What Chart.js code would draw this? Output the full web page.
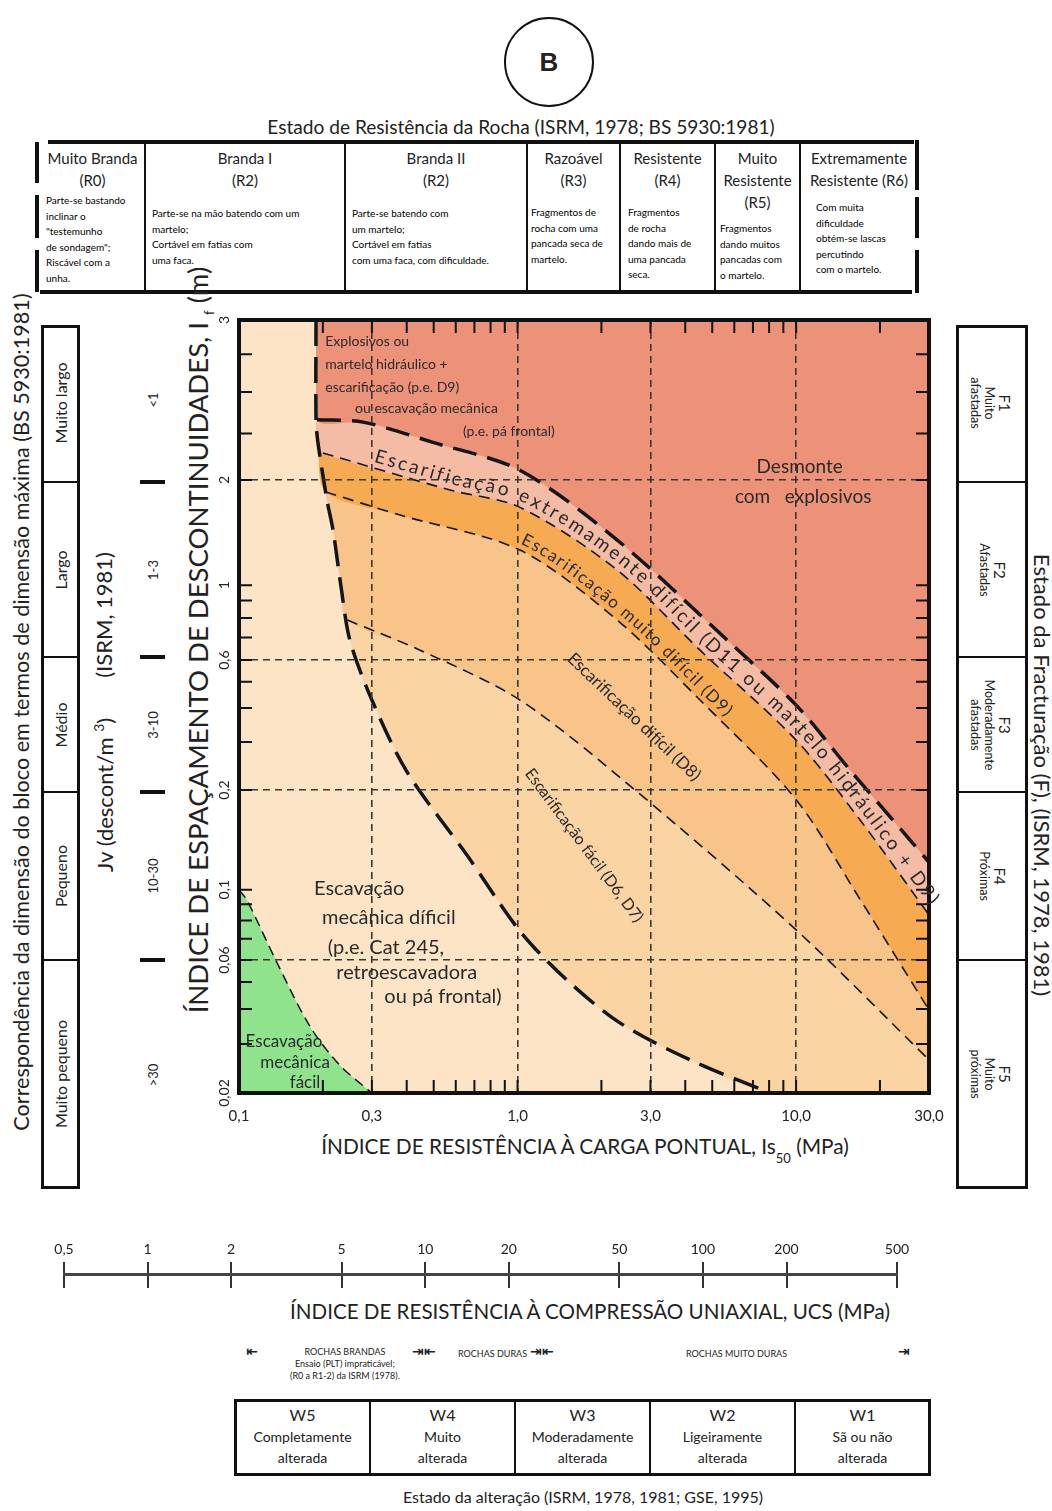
<!DOCTYPE html>
<html lang="pt">
<head>
<meta charset="utf-8">
<title>Escavabilidade de maciços rochosos</title>
<script src="https://cdn.jsdelivr.net/npm/chart.js@4.4.1/dist/chart.umd.min.js"></script>
<style>
  html, body { margin: 0; padding: 0; background: #fff; }
  #page { position: relative; width: 1052px; height: 1511px; overflow: hidden;
          font-family: Lato, 'Open Sans', sans-serif; color: #222; }
  .t { position: absolute; white-space: nowrap; line-height: 1; }
  .c { transform: translate(-50%, -50%); }
  .up { transform: translate(-50%, -50%) rotate(-90deg); }
  .down { transform: translate(-50%, -50%) rotate(90deg); text-align: center; line-height: 1.1; }
  .bar { position: absolute; background: #111; }
  .hd { font-size: 15px; text-align: center; line-height: 22px; }
  .sm { position: absolute; font-size: 10px; line-height: 15.5px; white-space: nowrap; color: #000; }
  .circle { position: absolute; left: 504px; top: 17px; width: 86px; height: 86px; border: 2.5px solid #111;
            border-radius: 50%; font: bold 26px 'Liberation Sans', Arial, sans-serif; text-align: center; line-height: 86px; }
  .box { position: absolute; border: 3px solid #111; box-sizing: border-box; }
  .tick { position: absolute; width: 25px; height: 4px; background: #111; left: 140px; }
  .wcell { position: absolute; top: 1400px; height: 75px; text-align: center; font-size: 14px; line-height: 21px; padding-top: 4px; box-sizing: border-box; }
  .rk { position: absolute; font-size: 9px; white-space: nowrap; color: #222; }
  .ar { position: absolute; font: bold 14px 'DejaVu Sans', sans-serif; color: #222; }
  #mainWrap { position: absolute; left: 190px; top: 300px; width: 780px; height: 830px; }
  #ucsWrap { position: absolute; left: 0; top: 1228px; width: 1052px; height: 60px; }
</style>
</head>
<body>
<div id="page">

  <div class="circle">B</div>
  <div class="t c" style="left:521px; top:127px; font-size:17px" data-w="507">Estado de Resistência da Rocha (ISRM, 1978; BS 5930:1981)</div>

  <!-- resistance table -->
  <div class="bar" style="left:48px; top:140px; width:866px; height:4px"></div>
  <div class="bar" style="left:40px; top:290px; width:872px; height:4px"></div>
  <div class="bar" style="left:35px; top:142px; width:4px; height:41px"></div>
  <div class="bar" style="left:35px; top:195px; width:4px; height:43px"></div>
  <div class="bar" style="left:35px; top:250px; width:4px; height:42px"></div>
  <div class="bar" style="left:915px; top:140px; width:4px; height:50px"></div>
  <div class="bar" style="left:915px; top:197px; width:4px; height:41px"></div>
  <div class="bar" style="left:915px; top:250px; width:4px; height:43px"></div>
  <div class="bar" style="left:144px; top:142px; width:2px; height:150px"></div>
  <div class="bar" style="left:344px; top:142px; width:2px; height:150px"></div>
  <div class="bar" style="left:526px; top:142px; width:2px; height:150px"></div>
  <div class="bar" style="left:619px; top:142px; width:2px; height:150px"></div>
  <div class="bar" style="left:714px; top:142px; width:2px; height:150px"></div>
  <div class="bar" style="left:799px; top:142px; width:2px; height:150px"></div>

  <div class="t hd" style="left:40px; width:105px; top:147px">Muito Branda<br>(R0)</div>
  <div class="t hd" style="left:145px; width:200px; top:147px">Branda I<br>(R2)</div>
  <div class="t hd" style="left:345px; width:182px; top:147px">Branda II<br>(R2)</div>
  <div class="t hd" style="left:527px; width:93px; top:147px">Razoável<br>(R3)</div>
  <div class="t hd" style="left:620px; width:95px; top:147px">Resistente<br>(R4)</div>
  <div class="t hd" style="left:715px; width:85px; top:147px">Muito<br>Resistente<br>(R5)</div>
  <div class="t hd" style="left:800px; width:118px; top:147px">Extremamente<br>Resistente (R6)</div>

  <div class="sm" style="left:46px; top:193px">Parte-se bastando<br>inclinar o<br>"testemunho<br>de sondagem";<br>Riscável com a<br>unha.</div>
  <div class="sm" style="left:152px; top:206px">Parte-se na mão batendo com um<br>martelo;<br>Cortável em fatias com<br>uma faca.</div>
  <div class="sm" style="left:352px; top:206px">Parte-se batendo com<br>um martelo;<br>Cortável em fatias<br>com uma faca, com dificuldade.</div>
  <div class="sm" style="left:531px; top:205px">Fragmentos de<br>rocha com uma<br>pancada seca de<br>martelo.</div>
  <div class="sm" style="left:628px; top:205px">Fragmentos<br>de rocha<br>dando mais de<br>uma pancada<br>seca.</div>
  <div class="sm" style="left:720px; top:221px">Fragmentos<br>dando muitos<br>pancadas com<br>o martelo.</div>
  <div class="sm" style="left:816px; top:200px">Com muita<br>dificuldade<br>obtém-se lascas<br>percutindo<br>com o martelo.</div>

  <!-- left side: block size -->
  <div class="t up" style="left:22px; top:712px; font-size:17px" data-w="838">Correspondência da dimensão do bloco em termos de dimensão máxima (BS 5930:1981)</div>
  <div class="box" style="left:41px; top:325px; width:39px; height:864px"></div>
  <div class="bar" style="left:41px; top:481px; width:39px; height:2px"></div>
  <div class="bar" style="left:41px; top:656px; width:39px; height:2px"></div>
  <div class="bar" style="left:41px; top:791px; width:39px; height:2px"></div>
  <div class="bar" style="left:41px; top:959px; width:39px; height:2px"></div>
  <div class="t up" style="left:61px; top:403px; font-size:16px">Muito largo</div>
  <div class="t up" style="left:61px; top:570px; font-size:16px">Largo</div>
  <div class="t up" style="left:61px; top:725px; font-size:16px">Médio</div>
  <div class="t up" style="left:61px; top:876px; font-size:16px">Pequeno</div>
  <div class="t up" style="left:61px; top:1074px; font-size:16px">Muito pequeno</div>

  <div class="t up" style="left:104px; top:712px; font-size:22px">Jv (descont/m <sup style="font-size:14px">3</sup>)<span style="margin-left:40px">(ISRM, 1981)</span></div>
  <div class="t up" style="left:153px; top:400px; font-size:13px">&lt;1</div>
  <div class="t up" style="left:153px; top:570px; font-size:13px">1-3</div>
  <div class="t up" style="left:153px; top:725px; font-size:13px">3-10</div>
  <div class="t up" style="left:153px; top:876px; font-size:13px">10-30</div>
  <div class="t up" style="left:153px; top:1075px; font-size:13px">&gt;30</div>
  <div class="tick" style="top:480px"></div>
  <div class="tick" style="top:655px"></div>
  <div class="tick" style="top:790px"></div>
  <div class="tick" style="top:958px"></div>

  <div class="t up" style="left:200px; top:640px; font-size:20px" data-w="748">ÍNDICE DE ESPAÇAMENTO DE DESCONTINUIDADES, I <sub style="font-size:13px">f</sub> (m)</div>

  <!-- right side: fracturing -->
  <div class="box" style="left:956px; top:325px; width:72px; height:864px"></div>
  <div class="bar" style="left:956px; top:481px; width:72px; height:2px"></div>
  <div class="bar" style="left:956px; top:656px; width:72px; height:2px"></div>
  <div class="bar" style="left:956px; top:791px; width:72px; height:2px"></div>
  <div class="bar" style="left:956px; top:959px; width:72px; height:2px"></div>
  <div class="t down" style="left:991px; top:403px; font-size:12.5px"><span style="font-size:15px">F1</span><br>Muito<br>afastadas</div>
  <div class="t down" style="left:993px; top:570px; font-size:12.5px"><span style="font-size:15px">F2</span><br>Afastadas</div>
  <div class="t down" style="left:991px; top:725px; font-size:12.5px"><span style="font-size:15px">F3</span><br>Moderadamente<br>afastadas</div>
  <div class="t down" style="left:993px; top:876px; font-size:12.5px"><span style="font-size:15px">F4</span><br>Próximas</div>
  <div class="t down" style="left:991px; top:1074px; font-size:12.5px"><span style="font-size:15px">F5</span><br>Muito<br>próximas</div>
  <div class="t down" style="left:1042px; top:775px; font-size:17px; line-height:1" data-w="442">Estado da Fracturação (F), (ISRM, 1978, 1981)</div>

  <div id="mainWrap"><canvas id="mainChart" width="780" height="830"></canvas></div>

  <div class="t c" style="left:585px; top:1150px; font-size:18px" data-w="530">ÍNDICE DE RESISTÊNCIA À CARGA PONTUAL, Is<sub style="font-size:13px; vertical-align:-9px">50</sub> (MPa)</div>

  <div id="ucsWrap"><canvas id="ucsChart" width="1052" height="60"></canvas></div>
  <div class="t c" style="left:590px; top:1311px; font-size:19px" data-w="600">ÍNDICE DE RESISTÊNCIA À COMPRESSÃO UNIAXIAL, UCS (MPa)</div>

  <!-- rock classes -->
  <div class="ar" style="left:246px; top:1343px">⇤</div>
  <div class="rk" style="left:290px; top:1346px; text-align:center; line-height:12px">ROCHAS BRANDAS<br>Ensaio (PLT) impraticável;<br>(R0 a R1-2) da ISRM (1978).</div>
  <div class="ar" style="left:412px; top:1343px">⇥⇤</div>
  <div class="rk" style="left:458px; top:1348px">ROCHAS DURAS</div>
  <div class="ar" style="left:530px; top:1343px">⇥⇤</div>
  <div class="rk" style="left:686px; top:1348px">ROCHAS MUITO DURAS</div>
  <div class="ar" style="left:898px; top:1343px">⇥</div>

  <!-- weathering table -->
  <div class="box" style="left:234px; top:1399px; width:697px; height:77px"></div>
  <div class="bar" style="left:369px; top:1400px; width:2px; height:75px"></div>
  <div class="bar" style="left:514px; top:1400px; width:2px; height:75px"></div>
  <div class="bar" style="left:649px; top:1400px; width:2px; height:75px"></div>
  <div class="bar" style="left:794px; top:1400px; width:2px; height:75px"></div>
  <div class="wcell" style="left:236px; width:133px"><span style="font-size:16px">W5</span><br>Completamente<br>alterada</div>
  <div class="wcell" style="left:371px; width:143px"><span style="font-size:16px">W4</span><br>Muito<br>alterada</div>
  <div class="wcell" style="left:516px; width:133px"><span style="font-size:16px">W3</span><br>Moderadamente<br>alterada</div>
  <div class="wcell" style="left:651px; width:143px"><span style="font-size:16px">W2</span><br>Ligeiramente<br>alterada</div>
  <div class="wcell" style="left:796px; width:133px"><span style="font-size:16px">W1</span><br>Sã ou não<br>alterada</div>
  <div class="t c" style="left:583px; top:1497px; font-size:16px">Estado da alteração (ISRM, 1978, 1981; GSE, 1995)</div>
</div>

<script>
// --- Axis values ---
const X_TICKS = [0.1, 0.3, 1, 3, 10, 30];
const X_GRID = [0.3, 1, 3, 10];
const X_MINOR = [0.2, 0.4, 0.5, 0.6, 0.7, 0.8, 0.9, 2, 4, 5, 6, 7, 8, 9, 20];
const Y_TICKS = [0.02, 0.06, 0.1, 0.2, 0.6, 1, 2, 3];
const Y_GRID = [0.06, 0.2, 0.6, 2];
const Y_MINOR = [0.03, 0.04, 0.05, 0.07, 0.08, 0.09, 0.3, 0.4, 0.5, 0.7, 0.8, 0.9, 2.25, 2.5, 2.75];
const UCS_TICKS = [0.5, 1, 2, 5, 10, 20, 50, 100, 200, 500];

// --- Zone boundaries, [Is50 (MPa), If (m)] ---
// thick dashed: mechanical digging / ripping
const limiteEscavacao = [[0.189, 3], [0.189, 2.33], [0.192, 2.2], [0.207, 1.75], [0.2175, 1.44],
  [0.232, 1.0], [0.25, 0.688], [0.30, 0.428], [0.401, 0.233], [0.659, 0.127], [1.02, 0.074],
  [1.506, 0.0508], [2.33, 0.0357], [4.16, 0.0263], [8.07, 0.02]];
// thick dashed: blasting
const limiteExplosivos = [[0.1906, 2.33], [0.279, 2.316], [0.497, 2.2], [1.02, 2.05], [2.28, 1.346],
  [5.65, 0.688], [10, 0.41], [15.6, 0.237], [25.7, 0.141], [30, 0.121]];
// extremely hard ripping / very hard ripping
const limiteExtremo = [[0.2, 2.142], [0.572, 1.873], [1.02, 1.67], [2.28, 1.104],
  [4.52, 0.642], [10, 0.305], [17, 0.162], [30, 0.0833]];
// very hard ripping / hard ripping
const limiteMuitoDificil = [[0.205, 1.848], [0.379, 1.587], [1.02, 1.26], [2.28, 0.788], [4.52, 0.428],
  [10, 0.187], [17, 0.093], [30, 0.0397]];
// hard ripping / easy ripping
const limiteDificil = [[0.245, 0.788], [0.447, 0.642], [1.02, 0.428], [2.64, 0.2], [10, 0.0747], [30, 0.0263]];
// easy digging
const limiteFacil = [[0.1, 0.1], [0.1068, 0.0927], [0.137, 0.0586], [0.18, 0.0346], [0.2305, 0.0251], [0.3, 0.02]];

// --- Layout of the y axis (fraction of plot height for each Y_TICKS value) ---
const Y_FRAC = [0, 0.172, 0.263, 0.392, 0.560, 0.657, 0.793, 1];
const TENSION = 0.3;

const COLORS = {
  facil: '#fbd4a4', dificil: '#f9c48a', muito: '#f6ab52', extremo: '#f4bba5',
  explosivos: '#eb9279', creme: '#fde4c6', verde: '#8fe38d', line: '#151515', grid: '#3e3630'
};

const PLOT_LABELS = [
  { text: 'Explosivos ou', x: 0.204, y: 2.84, size: 14, align: 'left' },
  { text: 'martelo hidráulico +', x: 0.204, y: 2.68, size: 14, align: 'left' },
  { text: 'escarificação (p.e. D9)', x: 0.204, y: 2.53, size: 14, align: 'left' },
  { text: 'ou escavação mecânica', x: 0.261, y: 2.40, size: 14, align: 'left' },
  { text: '(p.e. pá frontal)', x: 0.637, y: 2.26, size: 14, align: 'left' },
  { text: 'Desmonte', x: 10.3, y: 2.07, size: 19, align: 'center' },
  { text: 'com   explosivos', x: 10.6, y: 1.79, size: 19, align: 'center' },
  { text: 'Escavação', x: 0.27, y: 0.1005, size: 20, align: 'center' },
  { text: 'mecânica díficil', x: 0.345, y: 0.0817, size: 20, align: 'center' },
  { text: '(p.e. Cat 245,', x: 0.337, y: 0.0658, size: 20, align: 'center' },
  { text: 'retroescavadora', x: 0.40, y: 0.054, size: 20, align: 'center' },
  { text: 'ou pá frontal)', x: 0.54, y: 0.0445, size: 20, align: 'center' },
  { text: 'Escavação', x: 0.145, y: 0.0305, size: 17, align: 'center' },
  { text: 'mecânica', x: 0.159, y: 0.0257, size: 17, align: 'center' },
  { text: 'fácil', x: 0.1726, y: 0.0219, size: 17, align: 'center' },
  { text: 'Escarificação difícil (D8)', x: 2.62, y: 0.371, size: 17, align: 'center', angle: 43.6 },
  { text: 'Escarificação fácil (D6, D7)', x: 1.733, y: 0.136, size: 16, align: 'center', angle: 53.4 }
];
const CURVE_LABELS = [
  { text: 'Escarificação extremamente difícil (D11 ou martelo hidráulico + D9)', guide: limiteExtremo,
    from: 0.3, to: 29, offset: 6, size: 19 },
  { text: 'Escarificação muito difícil (D9)', guide: limiteMuitoDificil, from: 1.0, to: 5.4, offset: 6, size: 17 }
];

// --- Piecewise logarithmic y scale (the printed axis is not a regular log scale) ---
function yFrac(v) {
  const lv = Math.log10(v);
  for (let i = 0; i < Y_TICKS.length - 1; i++) {
    const a = Math.log10(Y_TICKS[i]), b = Math.log10(Y_TICKS[i + 1]);
    if (lv <= b || i === Y_TICKS.length - 2) {
      return Y_FRAC[i] + (lv - a) / (b - a) * (Y_FRAC[i + 1] - Y_FRAC[i]);
    }
  }
}
function yValue(f) {
  for (let i = 0; i < Y_FRAC.length - 1; i++) {
    if (f <= Y_FRAC[i + 1] || i === Y_FRAC.length - 2) {
      const a = Math.log10(Y_TICKS[i]), b = Math.log10(Y_TICKS[i + 1]);
      return Math.pow(10, a + (f - Y_FRAC[i]) / (Y_FRAC[i + 1] - Y_FRAC[i]) * (b - a));
    }
  }
}
class PiecewiseLogScale extends Chart.LogarithmicScale {
  getPixelForValue(value) {
    if (!(value > 0)) value = this.min;
    return this.getPixelForDecimal(yFrac(value));
  }
  getValueForPixel(pixel) {
    return yValue(this.getDecimalForPixel(pixel));
  }
}
PiecewiseLogScale.id = 'pwlog';
PiecewiseLogScale.defaults = Chart.LogarithmicScale.defaults;
Chart.register(PiecewiseLogScale);

const comma = v => String(v).replace('.', ',');
const toPts = arr => arr.map(([x, y]) => ({ x, y }));

// --- Datasets ---
function area(points, color, fill, order) {
  return { data: toPts(points), showLine: true, fill, backgroundColor: color,
           borderColor: 'rgba(0,0,0,0)', borderWidth: 0, pointRadius: 0, tension: TENSION, order };
}
function boundary(points, width, dash, order) {
  return { data: toPts(points), source: points, showLine: true, fill: false, borderColor: COLORS.line,
           borderWidth: width, borderDash: dash, pointRadius: 0, tension: TENSION, order };
}
// a band boundary starts on the digging limit: the part of that limit above it closes the zone
const fromLimit = curve => [...limiteEscavacao.filter(p => p[1] > curve[0][1] && p[0] < curve[0][0]), ...curve];

const datasets = [
  area([...limiteEscavacao, [30, 0.02]], COLORS.facil, 'end', 20),
  area(fromLimit(limiteDificil), COLORS.dificil, 'end', 19),
  area(fromLimit(limiteMuitoDificil), COLORS.muito, 'end', 18),
  area(fromLimit(limiteExtremo), COLORS.extremo, 'end', 17),
  area(fromLimit(limiteExplosivos), COLORS.explosivos, 'end', 16),
  area(limiteFacil, COLORS.verde, 'start', 14),
  boundary(limiteDificil, 1.6, [11, 7], 5),
  boundary(limiteMuitoDificil, 1.6, [11, 7], 5),
  boundary(limiteExtremo, 1.6, [11, 7], 5),
  boundary(limiteFacil, 1.5, [10, 6], 5),
  boundary(limiteExplosivos, 3.5, [24, 11], 4),
  boundary(limiteEscavacao, 3.5, [26, 11], 4)
];

// --- Text along a curve (follows the smoothed line drawn by Chart.js) ---
function smoothPath(chart, curve) {
  const index = chart.data.datasets.findIndex(d => d.source === curve);
  const pts = chart.getDatasetMeta(index).data;
  const out = [[pts[0].x, pts[0].y]];
  for (let i = 1; i < pts.length; i++) {
    const p = pts[i - 1], q = pts[i];
    const c1x = p.cp2x ?? p.x, c1y = p.cp2y ?? p.y, c2x = q.cp1x ?? q.x, c2y = q.cp1y ?? q.y;
    for (let k = 1; k <= 20; k++) {
      const t = k / 20, u = 1 - t;
      out.push([u * u * u * p.x + 3 * u * u * t * c1x + 3 * u * t * t * c2x + t * t * t * q.x,
                u * u * u * p.y + 3 * u * u * t * c1y + 3 * u * t * t * c2y + t * t * t * q.y]);
    }
  }
  return out;
}
function arcAtX(path, px) {
  let s = 0;
  for (let i = 1; i < path.length; i++) {
    const [x0, y0] = path[i - 1], [x1, y1] = path[i];
    const len = Math.hypot(x1 - x0, y1 - y0);
    if (px <= x1) return s + len * Math.max(0, (px - x0) / (x1 - x0 || 1));
    s += len;
  }
  return s;
}
function pointAtArc(path, s) {
  for (let i = 1; i < path.length; i++) {
    const [x0, y0] = path[i - 1], [x1, y1] = path[i];
    const len = Math.hypot(x1 - x0, y1 - y0);
    if (s <= len || i === path.length - 1) {
      const t = len ? s / len : 0;
      return { x: x0 + (x1 - x0) * t, y: y0 + (y1 - y0) * t, ang: Math.atan2(y1 - y0, x1 - x0) };
    }
    s -= len;
  }
}
function textOnCurve(ctx, chart, lbl) {
  const path = smoothPath(chart, lbl.guide);
  const { x } = chart.scales;
  const s0 = arcAtX(path, x.getPixelForValue(lbl.from));
  const s1 = arcAtX(path, x.getPixelForValue(lbl.to));
  ctx.font = `${lbl.size}px Lato, 'Open Sans', sans-serif`;
  const chars = [...lbl.text.normalize('NFC')];
  const widths = chars.map(ch => ctx.measureText(ch).width);
  const total = widths.reduce((a, b) => a + b, 0);
  const gap = (s1 - s0 - total) / (chars.length - 1);
  let s = s0;
  chars.forEach((ch, i) => {
    const p = pointAtArc(path, s + widths[i] / 2);
    const nx = Math.sin(p.ang), ny = -Math.cos(p.ang);
    ctx.save();
    ctx.translate(p.x + nx * lbl.offset, p.y + ny * lbl.offset);
    ctx.rotate(p.ang);
    ctx.fillText(ch, 0, 0);
    ctx.restore();
    s += widths[i] + gap;
  });
}

const decor = {
  id: 'decor',
  beforeDatasetsDraw(chart) {
    const { ctx, chartArea: a } = chart;
    ctx.save();
    ctx.fillStyle = COLORS.creme;
    ctx.fillRect(a.left, a.top, a.width, a.height);
    ctx.restore();
  },
  afterDraw(chart) {
    const { ctx, chartArea: a, scales: { x, y } } = chart;
    ctx.save();
    ctx.strokeStyle = '#111';
    ctx.lineWidth = 2;
    const L = 13;
    ctx.beginPath();
    [...X_MINOR, ...X_GRID].forEach(v => {
      const px = x.getPixelForValue(v);
      ctx.moveTo(px, a.bottom); ctx.lineTo(px, a.bottom - L);
      ctx.moveTo(px, a.top); ctx.lineTo(px, a.top + L);
    });
    [...Y_MINOR, ...Y_TICKS.slice(1, -1)].forEach(v => {
      const py = y.getPixelForValue(v);
      ctx.moveTo(a.left, py); ctx.lineTo(a.left + L, py);
      ctx.moveTo(a.right, py); ctx.lineTo(a.right - L, py);
    });
    ctx.stroke();
    ctx.lineWidth = 4;
    ctx.strokeRect(a.left, a.top, a.width, a.height);

    ctx.fillStyle = '#2a2a2a';
    ctx.textBaseline = 'middle';
    PLOT_LABELS.forEach(l => {
      ctx.save();
      ctx.font = `${l.size}px Lato, 'Open Sans', sans-serif`;
      ctx.textAlign = l.align;
      ctx.translate(x.getPixelForValue(l.x), y.getPixelForValue(l.y));
      if (l.angle) ctx.rotate(l.angle * Math.PI / 180);
      ctx.fillText(l.text, 0, 0);
      ctx.restore();
    });
    ctx.textAlign = 'center';
    ctx.textBaseline = 'alphabetic';
    CURVE_LABELS.forEach(l => textOnCurve(ctx, chart, l));
    ctx.restore();
  }
};

const gridColor = list => c => (c.tick && list.includes(c.tick.value)) ? COLORS.grid : 'rgba(0,0,0,0)';

// --- Main chart ---
new Chart(document.getElementById('mainChart'), {
  type: 'scatter',
  data: { datasets },
  plugins: [decor],
  options: {
    responsive: false,
    animation: false,
    events: [],
    layout: { padding: { left: 0, top: 20, right: 41, bottom: 0 } },
    plugins: { legend: { display: false }, tooltip: { enabled: false } },
    scales: {
      x: {
        type: 'logarithmic', min: 0.1, max: 30,
        afterBuildTicks: s => { s.ticks = X_TICKS.map(v => ({ value: v })); },
        afterFit: s => { s.height = 37; },
        ticks: { callback: v => (Math.round(v * 10) / 10).toFixed(1).replace('.', ','), autoSkip: false,
                 maxRotation: 0, padding: 14, color: '#222', font: { family: 'Lato', size: 15 } },
        grid: { drawTicks: false, lineWidth: 1.6, z: 1, color: gridColor(X_GRID) },
        border: { display: false, dash: [7, 5] }
      },
      y: {
        type: 'pwlog', min: 0.02, max: 3,
        afterBuildTicks: s => { s.ticks = Y_TICKS.map(v => ({ value: v })); },
        afterFit: s => { s.width = 49; },
        ticks: { callback: v => comma(v), autoSkip: false, minRotation: 90, maxRotation: 90,
                 crossAlign: 'center', padding: 1, color: '#222', font: { family: 'Lato', size: 14 } },
        grid: { drawTicks: false, lineWidth: 1.6, z: 1, color: gridColor(Y_GRID) },
        border: { display: false, dash: [7, 5] }
      }
    }
  }
});

// --- UCS scale (axis only) ---
new Chart(document.getElementById('ucsChart'), {
  type: 'scatter',
  data: { datasets: [] },
  options: {
    responsive: false,
    animation: false,
    events: [],
    layout: { padding: { left: 64, right: 155, top: 0, bottom: 0 } },
    plugins: { legend: { display: false }, tooltip: { enabled: false } },
    scales: {
      x: {
        type: 'logarithmic', position: 'top', min: 0.5, max: 500,
        afterBuildTicks: s => { s.ticks = UCS_TICKS.map(v => ({ value: v })); },
        afterFit: s => { s.height = 46; },
        ticks: { callback: v => comma(v), autoSkip: false, maxRotation: 0, padding: 4,
                 color: '#222', font: { family: 'Lato', size: 14 } },
        grid: { color: '#333', lineWidth: 2, tickLength: 12 },
        border: { color: '#444', width: 3 }
      },
      y: { display: false, min: 0, max: 1 }
    }
  }
});

// fit some long texts to the widths measured on the original
document.querySelectorAll('[data-w]').forEach(el => {
  const fs = parseFloat(getComputedStyle(el).fontSize);
  el.style.fontSize = (fs * Number(el.dataset.w) / el.scrollWidth).toFixed(2) + 'px';
});
</script>
</body>
</html>
